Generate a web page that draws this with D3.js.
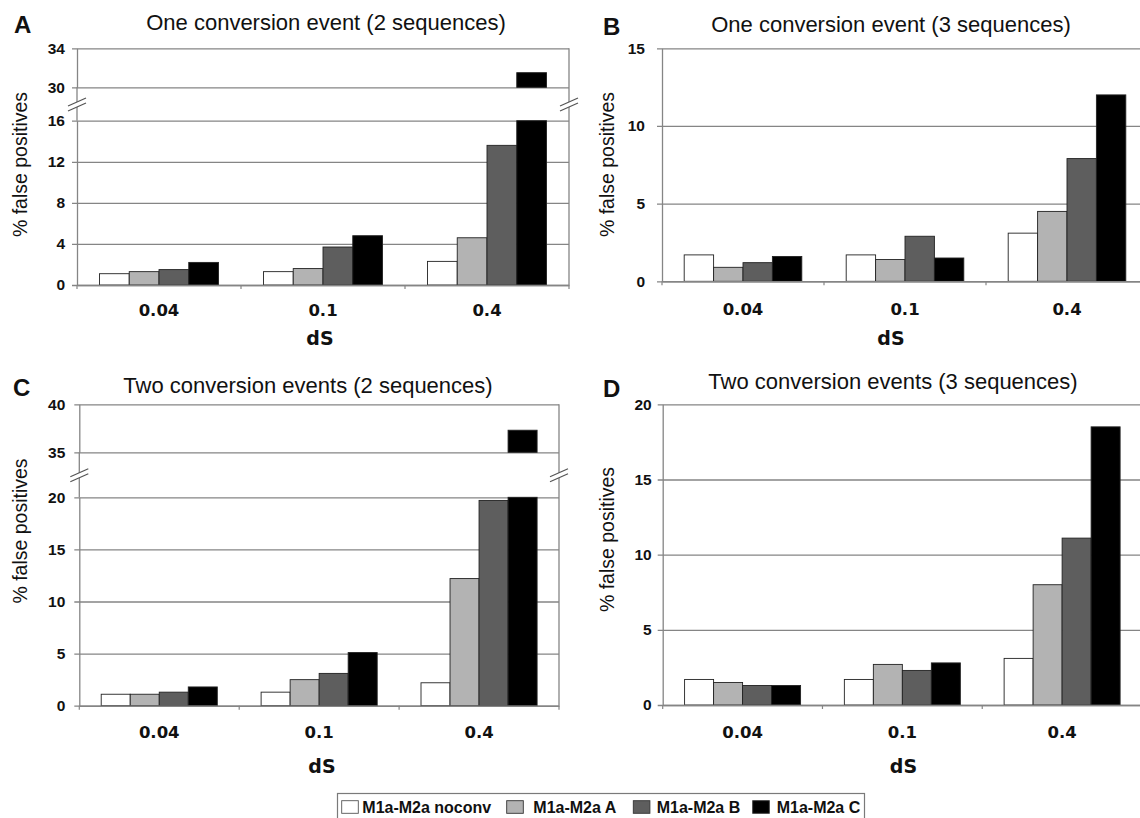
<!DOCTYPE html>
<html>
<head>
<meta charset="utf-8">
<script src="https://cdn.jsdelivr.net/npm/d3@7"></script>
<style>
  html, body { margin: 0; padding: 0; background: #fff; }
  svg { display: block; }
</style>
</head>
<body>
<svg id="fig" width="1140" height="818"></svg>
<script>
// ---- data -------------------------------------------------------------
const categories = ["0.04", "0.1", "0.4"];          // dS
const seriesNames = ["M1a-M2a noconv", "M1a-M2a A", "M1a-M2a B", "M1a-M2a C"];

// % false positives: one row per series, one column per dS category
const oneEvent2Seq  = [[1.1, 1.3, 2.3], [1.3, 1.6, 4.6], [1.5, 3.7, 13.6], [2.2, 4.8, 31.5]];
const oneEvent3Seq  = [[1.7, 1.7, 3.1], [0.9, 1.4, 4.5], [1.2, 2.9, 7.9],  [1.6, 1.5, 12.0]];
const twoEvents2Seq = [[1.1, 1.3, 2.2], [1.1, 2.5, 12.2], [1.3, 3.1, 19.7], [1.8, 5.1, 37.3]];
const twoEvents3Seq = [[1.7, 1.7, 3.1], [1.5, 2.7, 8.0], [1.3, 2.3, 11.1], [1.3, 2.8, 18.5]];

// tick labels (lower and upper segments of the broken axes)
const ticksA = [0, 4, 8, 12, 16], ticksAUpper = [30, 34];
const ticksB = [0, 5, 10, 15];
const ticksC = [0, 5, 10, 15, 20], ticksCUpper = [35, 40];
const ticksD = [0, 5, 10, 15, 20];

const titles = [
  "One conversion event (2 sequences)",
  "One conversion event (3 sequences)",
  "Two conversion events (2 sequences)",
  "Two conversion events (3 sequences)"
];

// ---- styles -----------------------------------------------------------
const fills = ["#ffffff", "#b3b3b3", "#5e5e5e", "#000000"];
const gridColor = "#858585";
const textColor = "#111111";
const sans = "'Liberation Sans', Arial, sans-serif";
const wide = "'DejaVu Sans', Verdana, sans-serif";

// ---- panel layout -----------------------------------------------------
const panels = [
  { letter: "A", title: titles[0], data: oneEvent2Seq, left: 77, right: 569,
    lower: { domain: [0, 16], range: [285, 120.7], ticks: ticksA },
    upper: { domain: [30, 34], range: [87.3, 48.3], ticks: ticksAUpper },
    tickGap: 12, xPad: 19.5, titleX: 326, titleY: 30, letterX: 14, letterY: 33,
    yTitleX: 20, yTitleY: 164.5, dsX: 320, dsY: 345 },
  { letter: "B", title: titles[1], data: oneEvent3Seq, left: 662, right: 1148,
    lower: { domain: [0, 15], range: [281.3, 48.3], ticks: ticksB },
    tickGap: 17, xPad: 22, titleX: 891, titleY: 31.5, letterX: 603, letterY: 35,
    yTitleX: 607, yTitleY: 164.5, dsX: 891, dsY: 345 },
  { letter: "C", title: titles[2], data: twoEvents2Seq, left: 79.3, right: 559,
    lower: { domain: [0, 20], range: [705.7, 497.3], ticks: ticksC },
    upper: { domain: [35, 40], range: [452.3, 404.3], ticks: ticksCUpper },
    tickGap: 14, xPad: 20.5, titleX: 308, titleY: 393, letterX: 13, letterY: 396,
    yTitleX: 20, yTitleY: 531, dsX: 322, dsY: 773 },
  { letter: "D", title: titles[3], data: twoEvents3Seq, left: 662.7, right: 1142,
    lower: { domain: [0, 20], range: [705, 404.3], ticks: ticksD },
    tickGap: 11, xPad: 21, titleX: 893, titleY: 388.5, letterX: 603, letterY: 397,
    yTitleX: 607, yTitleY: 539.5, dsX: 903.5, dsY: 773 }
];

const svg = d3.select("#fig");

function styleAxis(g, font, size, weight) {
  g.selectAll(".domain").attr("stroke", gridColor).attr("stroke-width", 1.3);
  g.selectAll(".tick line").attr("stroke", gridColor).attr("stroke-width", 1.3);
  g.selectAll(".tick text")
    .attr("fill", textColor)
    .style("font-family", font)
    .style("font-size", size + "px")
    .style("font-weight", weight);
}

function drawBreak(g, x, y) {
  const m = g.append("g").attr("transform", `translate(${x},${y})`);
  m.append("polygon").attr("points", "-9,2 9,-6 9,-1 -9,7").attr("fill", "#fff");
  m.append("line").attr("x1", -9).attr("y1", 2).attr("x2", 9).attr("y2", -6)
    .attr("stroke", "#555").attr("stroke-width", 1.2);
  m.append("line").attr("x1", -9).attr("y1", 7).attr("x2", 9).attr("y2", -1)
    .attr("stroke", "#555").attr("stroke-width", 1.2);
}

panels.forEach(p => {
  const g = svg.append("g");
  const plotW = p.right - p.left;

  const x0 = d3.scaleBand().domain(categories).range([p.left, p.right]);
  const groupW = x0.bandwidth() * 0.726;
  const groupOff = (x0.bandwidth() - groupW) / 2;
  const x1 = d3.scaleBand().domain(d3.range(seriesNames.length)).range([0, groupW]);

  const yL = d3.scaleLinear().domain(p.lower.domain).range(p.lower.range);
  const yU = p.upper ? d3.scaleLinear().domain(p.upper.domain).range(p.upper.range) : null;
  const lowMax = p.lower.domain[1];
  const yBottom = yL(0);
  const yTop = yU ? yU(p.upper.domain[1]) : yL(lowMax);

  // y axes: gridlines through the plot plus short outside ticks
  const segs = [{ s: yL, t: p.lower.ticks }];
  if (yU) segs.push({ s: yU, t: p.upper.ticks });
  segs.forEach(seg => {
    const ax = g.append("g").attr("transform", `translate(${p.left},0)`)
      .call(d3.axisLeft(seg.s).tickValues(seg.t).tickSizeInner(-plotW).tickSizeOuter(0)
        .tickPadding(p.tickGap).tickFormat(d3.format("d")));
    styleAxis(ax, sans, 15.5, "bold");
    ax.selectAll(".tick line").attr("x1", -5);
  });

  // axis line across the break and right-hand border
  if (yU) {
    g.append("line").attr("x1", p.left).attr("x2", p.left)
      .attr("y1", yU(p.upper.domain[0])).attr("y2", yL(lowMax))
      .attr("stroke", gridColor).attr("stroke-width", 1.3);
  }
  g.append("line").attr("x1", p.right).attr("x2", p.right)
    .attr("y1", yTop).attr("y2", yBottom)
    .attr("stroke", gridColor).attr("stroke-width", 1.3);

  // bars
  p.data.forEach((vals, si) => {
    vals.forEach((v, ci) => {
      const bx = x0(categories[ci]) + groupOff + x1(si);
      const bw = x1.bandwidth();
      const lowV = Math.min(v, lowMax);
      g.append("rect")
        .attr("x", bx).attr("width", bw)
        .attr("y", yL(lowV)).attr("height", yL(0) - yL(lowV))
        .attr("fill", fills[si]).attr("stroke", "#222").attr("stroke-width", 0.9);
      if (yU && v > lowMax) {
        g.append("rect")
          .attr("x", bx).attr("width", bw)
          .attr("y", yU(v)).attr("height", yU(p.upper.domain[0]) - yU(v))
          .attr("fill", fills[si]).attr("stroke", "#222").attr("stroke-width", 0.9);
      }
    });
  });

  // x axis: category labels and small ticks at category boundaries
  const xa = g.append("g").attr("transform", `translate(0,${yBottom})`)
    .call(d3.axisBottom(x0).tickSize(0).tickPadding(p.xPad));
  styleAxis(xa, wide, 16.5, "bold");
  xa.select(".domain").attr("stroke-width", 1.5);
  d3.range(categories.length + 1).forEach(i => {
    const tx = p.left + i * x0.bandwidth();
    g.append("line").attr("x1", tx).attr("x2", tx)
      .attr("y1", yBottom).attr("y2", yBottom + 4)
      .attr("stroke", gridColor).attr("stroke-width", 1.2);
  });

  // broken-axis marks
  if (yU) {
    const midY = (yU(p.upper.domain[0]) + yL(lowMax)) / 2;
    drawBreak(g, p.left, midY);
    drawBreak(g, p.right, midY);
  }

  // titles and labels
  g.append("text").attr("x", p.titleX).attr("y", p.titleY)
    .attr("text-anchor", "middle").attr("fill", textColor)
    .style("font-family", sans).style("font-size", "22px")
    .text(p.title);
  g.append("text").attr("x", p.letterX).attr("y", p.letterY)
    .attr("fill", textColor)
    .style("font-family", sans).style("font-size", "24px").style("font-weight", "bold")
    .text(p.letter);
  g.append("text")
    .attr("transform", `translate(${p.yTitleX},${p.yTitleY}) rotate(-90)`)
    .attr("text-anchor", "middle").attr("dy", "0.35em").attr("fill", textColor)
    .style("font-family", sans).style("font-size", "19.5px")
    .text("% false positives");
  g.append("text").attr("x", p.dsX).attr("y", p.dsY)
    .attr("text-anchor", "middle").attr("fill", textColor)
    .style("font-family", wide).style("font-size", "19px").style("font-weight", "bold")
    .text("dS");
});

// ---- legend -----------------------------------------------------------
const legend = svg.append("g");
legend.append("rect").attr("x", 337.5).attr("y", 793.5).attr("width", 527).attr("height", 30)
  .attr("fill", "#fff").attr("stroke", "#7a7a7a").attr("stroke-width", 1.2);
const swatchX = [341.7, 506.7, 633.3, 752.7];
const labelX = [362.3, 533.3, 656.7, 776.7];
seriesNames.forEach((name, i) => {
  legend.append("rect").attr("x", swatchX[i]).attr("y", 800.7).attr("width", 16.6).attr("height", 12.6)
    .attr("fill", fills[i]).attr("stroke", i === 0 ? "#555" : "#333").attr("stroke-width", 0.9);
  legend.append("text")
    .attr("x", labelX[i]).attr("y", 812.7)
    .attr("fill", textColor)
    .style("font-family", sans).style("font-size", "16px").style("font-weight", "bold")
    .text(name);
});
</script>
</body>
</html>
